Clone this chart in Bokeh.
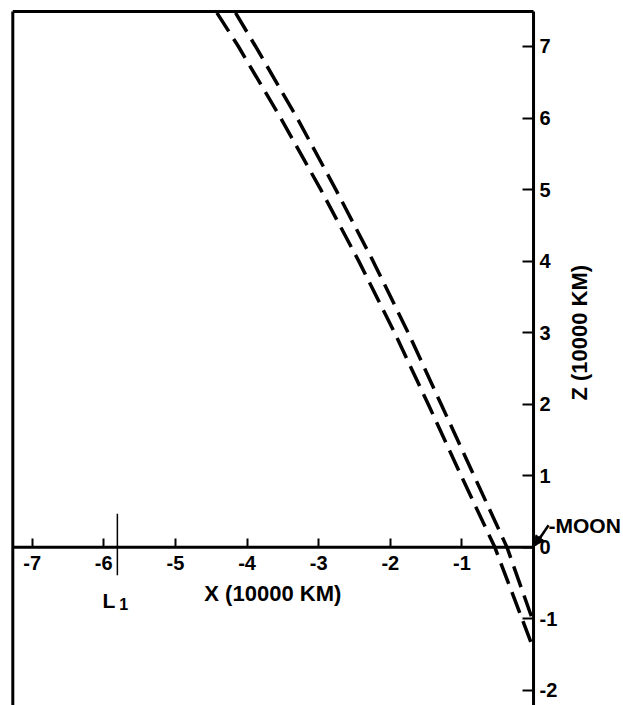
import math
from bokeh.plotting import figure
from bokeh.models import (LinearAxis, FixedTicker, Range1d, Label, Arrow, NormalHead)
from bokeh.embed import file_html
from bokeh.resources import INLINE

# ---- data (X and Z in units of 10000 km) ----
z_outer = [7.47, 7.0, 6.0, 5.0, 4.0, 3.0, 2.0, 1.0, 0.0, -1.0, -1.42]
x_outer = [-4.42, -4.12, -3.53, -2.97, -2.44, -1.94, -1.47, -1.01, -0.54, -0.16, 0.0]
z_inner = [7.47, 7.0, 6.0, 5.0, 4.0, 3.0, 2.0, 1.0, 0.0, -1.05]
x_inner = [-4.16, -3.88, -3.30, -2.76, -2.24, -1.75, -1.29, -0.83, -0.37, 0.0]

x_ticks = [-7, -6, -5, -4, -3, -2, -1]
x_tick_labels = ["-7", "-6", "-5", "-4", "-3", "-2", "-1"]
z_ticks = [-2, -1, 0, 1, 2, 3, 4, 5, 6, 7]
z_tick_labels = ["-2", "-1", "0", "1", "2", "3", "4", "5", "6", "7"]

L1_x = -5.81
L1_z = [-0.39, 0.47]

# moon leader line (from label to the origin)
MOON_LEADER = (0.21, 0.31)

# plotted box (drawn borders) and visible ranges
BOX_X = (-7.27, 0.0)
BOX_Z = (-2.25, 7.49)
X_RANGE = (-7.33, 1.256)
Z_RANGE = (-2.21, 7.531)

FONT = "Liberation Sans"

p = figure(width=623, height=705, output_backend="svg", toolbar_location=None,
           x_range=Range1d(*X_RANGE), y_range=Range1d(*Z_RANGE),
           x_axis_location=None, y_axis_location=None,
           min_border_left=8, min_border_top=8, min_border_bottom=0,
           min_border_right=0, outline_line_color=None,
           background_fill_color="white", border_fill_color="white")
p.grid.visible = False

# Z axis ticks/labels along X = 0
zax = LinearAxis(fixed_location=0, ticker=FixedTicker(ticks=z_ticks),
                 major_label_overrides={t: s for t, s in zip(z_ticks, z_tick_labels)},
                 major_tick_in=11, major_tick_out=0,
                 minor_tick_line_color=None, axis_line_color=None,
                 major_tick_line_width=2, major_tick_line_color="black",
                 major_label_text_font=FONT, major_label_text_font_style="bold",
                 major_label_text_font_size="20px", major_label_text_color="black",
                 major_label_standoff=6)
p.add_layout(zax, "right")

# X axis ticks/labels along Z = 0
xax = LinearAxis(fixed_location=0, ticker=FixedTicker(ticks=x_ticks),
                 major_label_overrides={t: s for t, s in zip(x_ticks, x_tick_labels)},
                 major_tick_in=9, major_tick_out=0,
                 minor_tick_line_color=None, axis_line_color=None,
                 major_tick_line_width=2, major_tick_line_color="black",
                 major_label_text_font=FONT, major_label_text_font_style="bold",
                 major_label_text_font_size="20px", major_label_text_color="black",
                 major_label_standoff=9)
p.add_layout(xax, "below")

# box borders (left, top) and the two axis lines, limited to the box
p.segment(x0=[BOX_X[0], BOX_X[0], BOX_X[0], BOX_X[1]],
          y0=[BOX_Z[0], BOX_Z[1], 0, BOX_Z[0]],
          x1=[BOX_X[0], BOX_X[1], BOX_X[1], BOX_X[1]],
          y1=[BOX_Z[1], BOX_Z[1], 0, BOX_Z[1]],
          line_color="black", line_width=3)

# trajectories
p.line(x_outer, z_outer, line_color="black", line_width=3.5, line_dash="22 9")
p.line(x_inner, z_inner, line_color="black", line_width=3.5, line_dash="22 9")

# L1 marker
p.segment(x0=[L1_x], y0=[L1_z[0]], x1=[L1_x], y1=[L1_z[1]], line_color="black", line_width=1.5)
p.add_layout(Label(x=L1_x, y=0, x_offset=-2, y_offset=-53, text="L", text_align="right",
                   text_baseline="alphabetic", text_font=FONT, text_font_style="bold",
                   text_font_size="21px", text_color="black"))
p.add_layout(Label(x=L1_x, y=0, x_offset=2, y_offset=-57, text="1", text_align="left",
                   text_baseline="alphabetic", text_font=FONT, text_font_style="bold",
                   text_font_size="16px", text_color="black"))

# axis titles
p.add_layout(Label(x=-3.64, y=0, y_offset=-46, text="X (10000 KM)", text_align="center",
                   text_baseline="middle", text_font=FONT, text_font_style="bold",
                   text_font_size="22px", text_color="black"))
p.add_layout(Label(x=0, y=3.0, x_offset=46, text="Z (10000 KM)", angle=math.pi / 2,
                   text_align="center", text_baseline="middle", text_font=FONT,
                   text_font_style="bold", text_font_size="22px", text_color="black"))

# Moon marker
p.add_layout(Label(x=0, y=0, x_offset=15, y_offset=22, text="-MOON", text_align="left",
                   text_baseline="middle", text_font=FONT, text_font_style="bold",
                   text_font_size="21px", text_color="black"))
p.segment(x0=[MOON_LEADER[0]], y0=[MOON_LEADER[1]], x1=[0.02], y1=[0.03],
          line_color="black", line_width=2.5)
p.add_layout(Arrow(x_start=MOON_LEADER[0] * 0.5, y_start=MOON_LEADER[1] * 0.5,
                   x_end=0.01, y_end=0.02, line_color="black", line_width=2.5,
                   end=NormalHead(size=10, fill_color="black", line_color="black")))

open("out.html", "w").write(file_html(p, INLINE))
